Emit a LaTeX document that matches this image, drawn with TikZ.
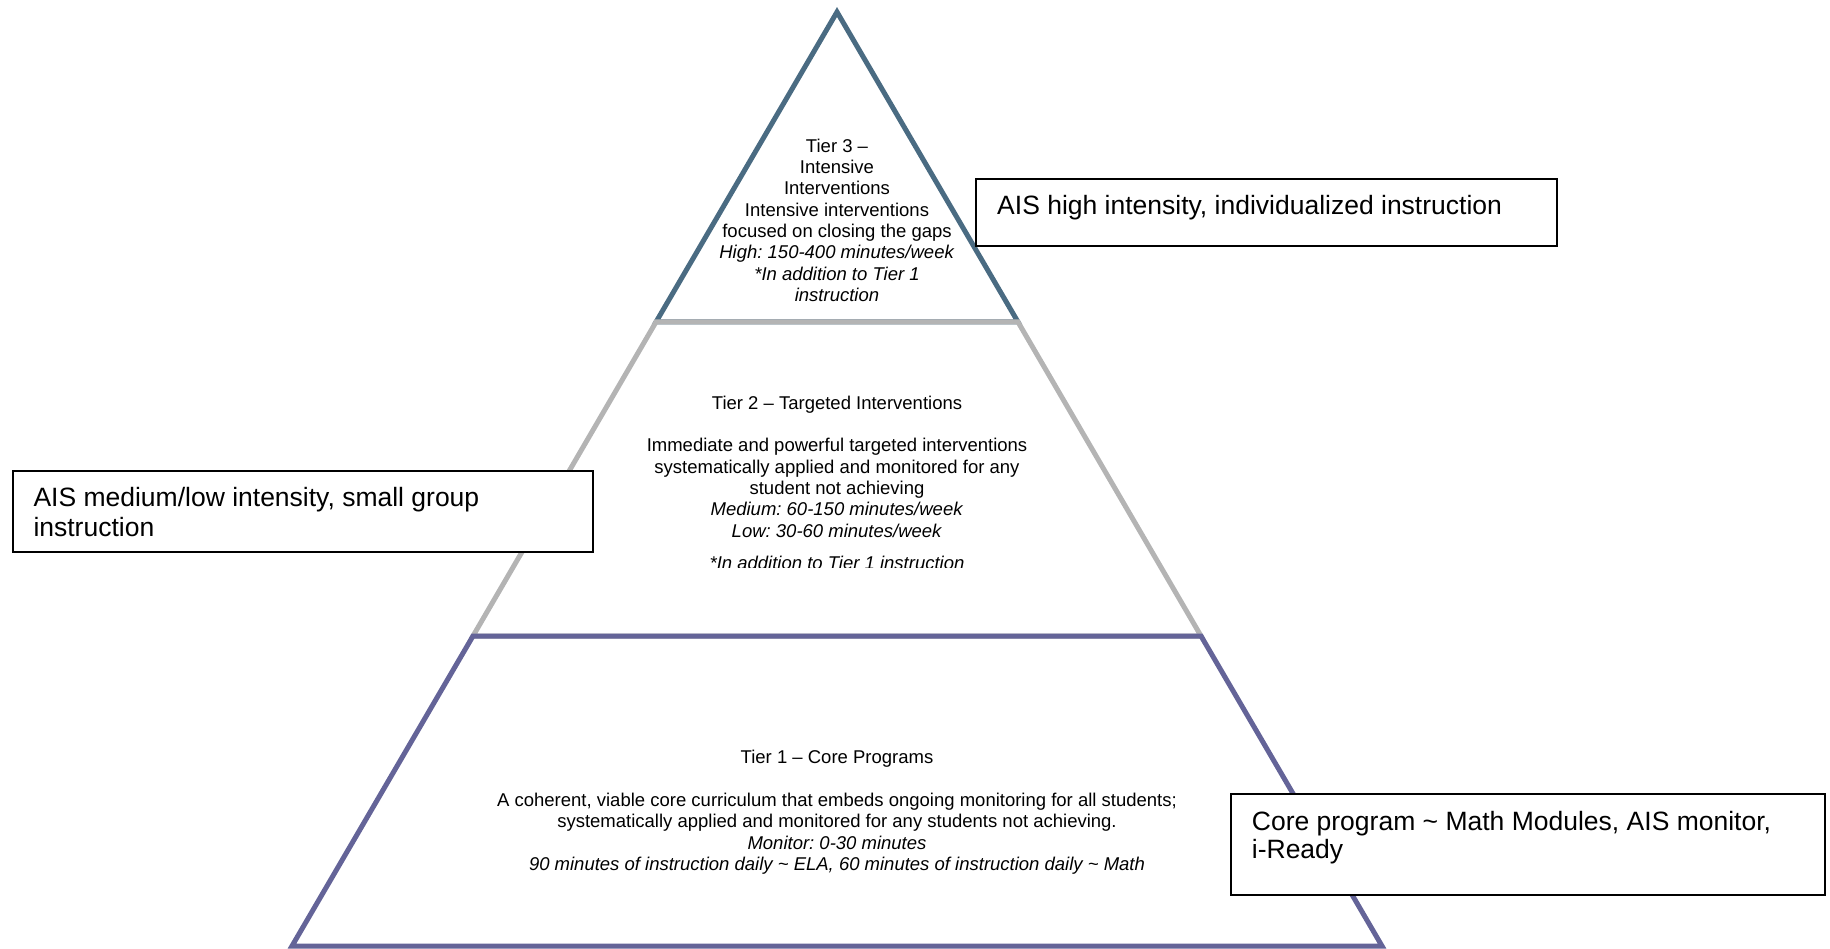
\documentclass[tikz,border=0pt]{standalone}
\usepackage{fontspec}
\setmainfont{Liberation Sans}
\usetikzlibrary{calc}
\definecolor{tierthree}{RGB}{74,107,130}
\definecolor{tiertwo}{RGB}{180,180,180}
\definecolor{tierone}{RGB}{100,100,152}
\frenchspacing
\begin{document}
\begin{tikzpicture}[x=1pt,y=-1pt,
  tierline/.style={line width=5pt, line join=miter},
  pyrtext/.style={align=center, font=\fontsize{18.5}{21.3}\selectfont\frenchspacing, inner sep=0pt, anchor=base},
  infobox/.style={draw=black, line width=2pt, fill=white, inner sep=0pt, outer sep=0pt, anchor=north west},
  boxtext/.style={align=left, inner sep=0pt, anchor=base west}]
\useasboundingbox (0,0) rectangle (1830,949);
% pyramid corners
\coordinate (apex) at (837,12);
\coordinate (t3l) at (656,322);
\coordinate (t3r) at (1018,322);
\coordinate (t2l) at (473,636);
\coordinate (t2r) at (1201,636);
\coordinate (t1l) at (292,946);
\coordinate (t1r) at (1382,946);
% tiers
\draw[tierline, draw=tierthree] (apex) -- (t3r) -- (t3l) -- cycle;
\draw[tierline, draw=tiertwo] (t3l) -- (t3r) -- (t2r) -- (t2l) -- cycle;
\draw[tierline, draw=tierone] (t2l) -- (t2r) -- (t1r) -- (t1l) -- cycle;
% tier texts (anchored at the baseline of their last line)
\node[pyrtext] (t3text) at (837,301.5) {Tier 3 --\\Intensive\\Interventions\\Intensive interventions\\focused on closing the gaps\\\textit{High: 150-400 minutes/week}\\\textit{*In addition to Tier 1}\\\textit{instruction}};
\node[pyrtext] (t2text) at (837,537) {Tier 2 -- Targeted Interventions\\[21.3pt]Immediate and powerful targeted interventions\\systematically applied and monitored for any\\student not achieving\\\textit{Medium: 60-150 minutes/week}\\\textit{Low: 30-60 minutes/week}};
\begin{scope}
\clip (600,540) rectangle (1080,567.5);
\node[pyrtext] (t2note) at (837,569) {\textit{*In addition to Tier 1 instruction}};
\end{scope}
\node[pyrtext] (t1text) at (837,870.4) {Tier 1 -- Core Programs\\[21.3pt]A coherent, viable core curriculum that embeds ongoing monitoring for all students;\\systematically applied and monitored for any students not achieving.\\\textit{Monitor: 0-30 minutes}\\\textit{90 minutes of instruction daily \textasciitilde{} ELA, 60 minutes of instruction daily \textasciitilde{} Math}};
% side boxes
\node[infobox, minimum width=581pt, minimum height=66.5pt] (high) at (976,179.5) {};
\node[boxtext, font=\fontsize{26.5}{30}\selectfont\frenchspacing] (hightext) at ($(high.north west)+(21,35.5)$) {AIS high intensity, individualized instruction};
\node[infobox, minimum width=580.5pt, minimum height=81pt] (med) at (12.7,470.5) {};
\node[boxtext, font=\fontsize{26.5}{30}\selectfont\frenchspacing] (medtext) at ($(med.north west)+(20.6,65.5)$) {AIS medium/low intensity, small group\\instruction};
\node[infobox, minimum width=594pt, minimum height=101pt] (core) at (1231,794) {};
\node[boxtext, font=\fontsize{26.5}{28.5}\selectfont\frenchspacing] (coretext) at ($(core.north west)+(20.7,64.5)$) {Core program \textasciitilde{} Math Modules, AIS monitor,\\i-Ready};
\end{tikzpicture}
\end{document}
